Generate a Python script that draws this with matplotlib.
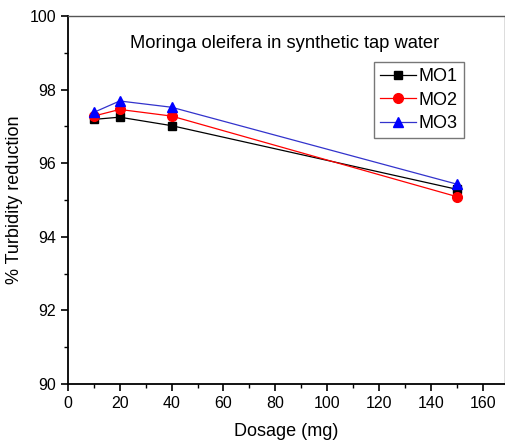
import matplotlib
matplotlib.use("Agg")
import matplotlib.pyplot as plt
from matplotlib.ticker import MultipleLocator

plt.rcParams['font.family'] = ['Liberation Sans', 'DejaVu Sans']

dosage = [10, 20, 40, 150]
mo1 = [97.19, 97.25, 97.02, 95.29]
mo2 = [97.28, 97.46, 97.28, 95.09]
mo3 = [97.38, 97.69, 97.52, 95.43]

fig = plt.figure(figsize=(5.06, 4.43), dpi=100)
ax = fig.add_axes([0.134, 0.133, 0.864, 0.831])

ax.plot(dosage, mo1, color='black', marker='s', markersize=6, lw=0.9, label='MO1')
ax.plot(dosage, mo2, color='red', marker='o', markersize=7, lw=0.9, markeredgecolor='red', label='MO2')
ax.plot(dosage, mo3, color='#3333cc', marker='^', markersize=7, lw=0.9,
        markerfacecolor='blue', markeredgecolor='blue', label='MO3')

ax.set_xlim(0, 168.5)
ax.set_ylim(90, 100)
ax.xaxis.set_major_locator(MultipleLocator(20))
ax.xaxis.set_minor_locator(MultipleLocator(10))
ax.yaxis.set_major_locator(MultipleLocator(2))
ax.yaxis.set_minor_locator(MultipleLocator(1))
ax.tick_params(which='both', direction='out', top=False, right=False, labelsize=11.5)
ax.tick_params(which='major', length=5, width=1.2)
ax.tick_params(which='minor', length=3, width=1)
for side in ['left', 'bottom']:
    ax.spines[side].set_linewidth(1.3)
for side in ['top', 'right']:
    ax.spines[side].set_linewidth(1.0)
    ax.spines[side].set_color('#555555')

ax.set_xlabel('Dosage (mg)', fontsize=13)
ax.set_ylabel('% Turbidity reduction', fontsize=13)
ax.yaxis.set_label_coords(-0.103, 0.5)
ax.xaxis.set_label_coords(0.5, -0.107)

ax.text(0.495, 0.925, 'Moringa oleifera in synthetic tap water', transform=ax.transAxes,
        ha='center', va='center', fontsize=13.2)

leg = ax.legend(loc='upper left', bbox_to_anchor=(0.700, 0.875), fontsize=13,
                frameon=True, fancybox=False, edgecolor='#555555', handlelength=2.0,
                handletextpad=0.15, borderpad=0.35, labelspacing=0.35, borderaxespad=0)
leg.get_frame().set_linewidth(1.0)

fig.savefig('out.png', dpi=100)
